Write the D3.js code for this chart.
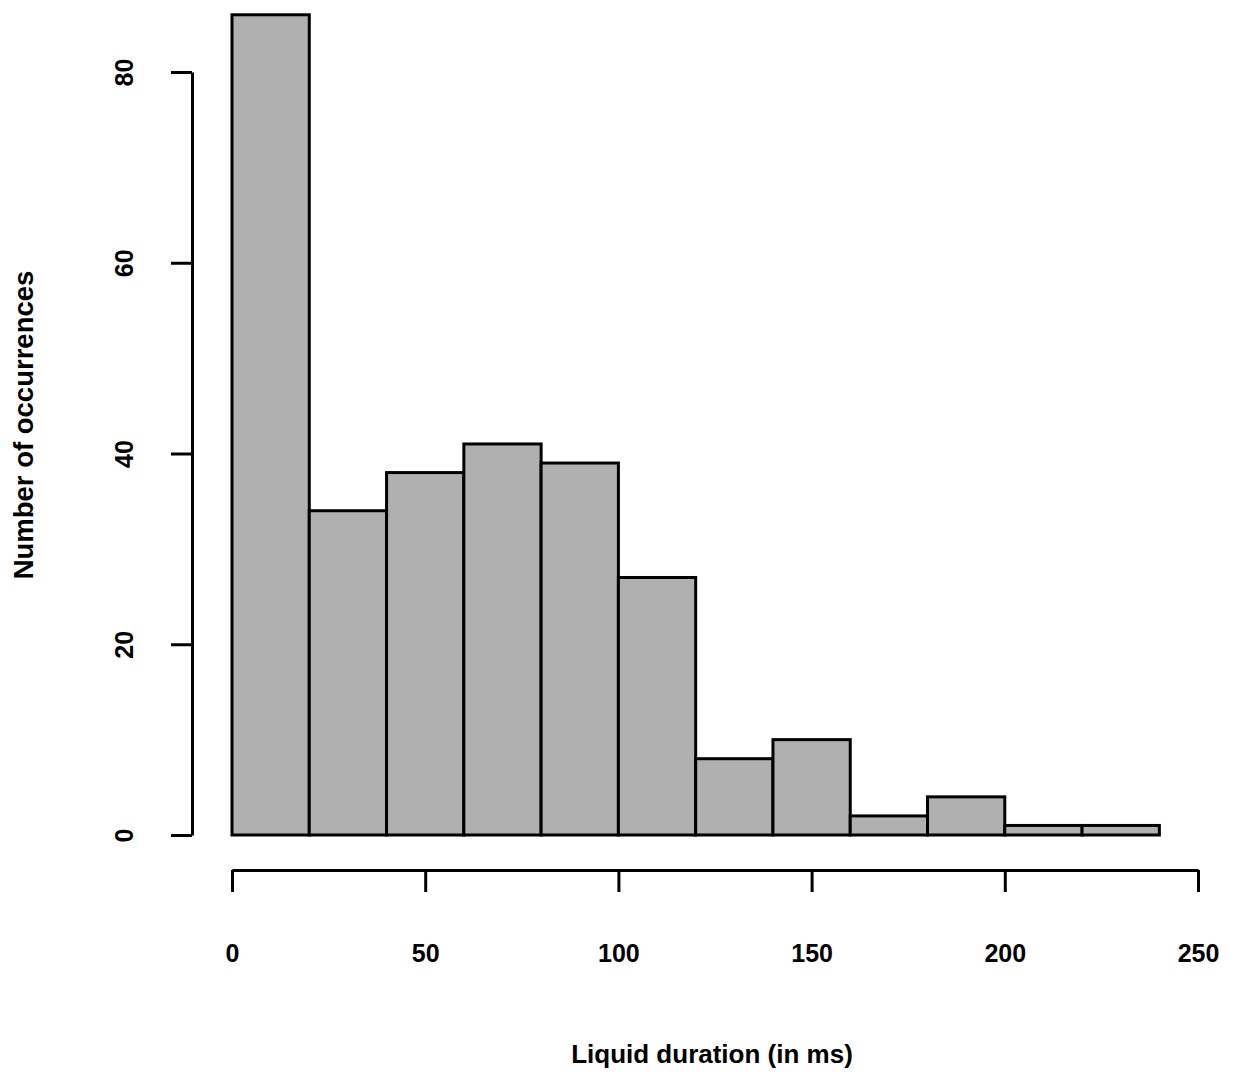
<!DOCTYPE html>
<html>
<head>
<meta charset="utf-8">
<script src="https://cdn.jsdelivr.net/npm/d3@7"></script>
<style>
body { margin: 0; background: #fff; }
text { font-family: "Liberation Sans", Arial, sans-serif; }
</style>
</head>
<body>
<script>
// histogram bins (ms) and counts
var binStarts = [0, 20, 40, 60, 80, 100, 120, 140, 160, 180, 200, 220]
var binWidth = 20
var counts = [86, 34, 38, 41, 39, 27, 8, 10, 2, 4, 1, 1]
var xTicks = [0, 50, 100, 150, 200, 250]
var yTicks = [0, 20, 40, 60, 80]
var xTitle = "Liquid duration (in ms)"
var yTitle = "Number of occurrences"

var width = 1240, height = 1092

var svg = d3.select("body").append("svg")
	.attr("width", width)
	.attr("height", height)

var x = d3.scaleLinear().domain([0, 250]).range([232, 1198])
var y = d3.scaleLinear().domain([0, 80]).range([835, 72])

// bars
svg.selectAll("rect.bar")
	.data(counts)
	.enter()
	.append("rect")
	.attr("class", "bar")
	.attr("x", function(d, i) { return x(binStarts[i]) })
	.attr("y", function(d) { return y(d) })
	.attr("width", function(d, i) { return x(binStarts[i] + binWidth) - x(binStarts[i]) })
	.attr("height", function(d) { return y(0) - y(d) })
	.attr("fill", "#b0b0b0")
	.attr("stroke", "#000")
	.attr("stroke-width", 3)

// x axis, offset below the bars like R does
var xAxis = svg.append("g")
	.attr("transform", "translate(0,870)")
	.call(d3.axisBottom(x).tickValues(xTicks).tickSize(22).tickPadding(52).tickSizeOuter(0))
xAxis.select(".domain").attr("stroke-width", 3)
xAxis.selectAll(".tick line").attr("stroke-width", 3)
xAxis.selectAll(".tick text")
	.attr("font-size", 25)
	.attr("font-weight", "bold")
	.attr("fill", "#000")

// y axis
var yAxis = svg.append("g")
	.attr("transform", "translate(192,0)")
	.call(d3.axisLeft(y).tickValues(yTicks).tickSize(21).tickSizeOuter(0).tickPadding(0))
yAxis.select(".domain").attr("stroke-width", 3)
yAxis.selectAll(".tick line").attr("stroke-width", 3)
yAxis.selectAll(".tick text")
	.attr("font-size", 25)
	.attr("font-weight", "bold")
	.attr("fill", "#000")
	.attr("text-anchor", "middle")
	.attr("dy", null)
	.attr("x", null)
	.attr("transform", "translate(-68,0) rotate(-90)")
	.attr("dominant-baseline", "central")

// axis titles
svg.append("text")
	.attr("x", (x(0) + x(250)) / 2 - 3)
	.attr("y", 1063)
	.attr("text-anchor", "middle")
	.attr("font-size", 26)
	.attr("font-weight", "bold")
	.text(xTitle)

svg.append("text")
	.attr("transform", "translate(33," + 425 + ") rotate(-90)")
	.attr("text-anchor", "middle")
	.attr("font-size", 27.5)
	.attr("font-weight", "bold")
	.text(yTitle)
</script>
</body>
</html>
